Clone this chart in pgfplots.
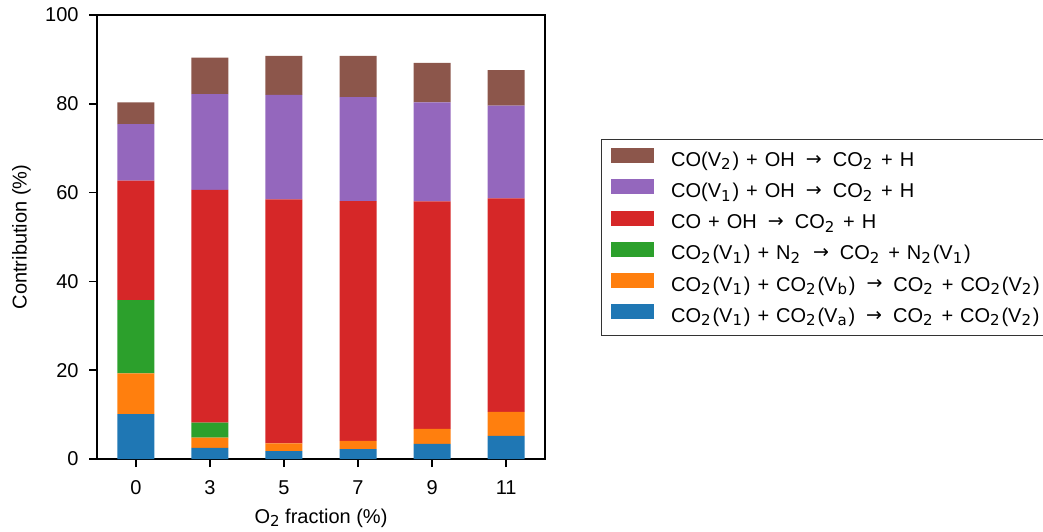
\documentclass[border=0pt]{standalone}
\usepackage{fontspec}
\setmainfont{Liberation Sans}
\newfontfamily\djv{DejaVu Sans}
\usepackage{pgfplots}
\usepackage{pgfplotstable}
\pgfplotsset{compat=1.18}
\definecolor{tabblue}{HTML}{1F77B4}
\definecolor{taborange}{HTML}{FF7F0E}
\definecolor{tabgreen}{HTML}{2CA02C}
\definecolor{tabred}{HTML}{D62728}
\definecolor{tabpurple}{HTML}{9467BD}
\definecolor{tabbrown}{HTML}{8C564B}
\newcommand{\arr}{\hspace{5.5pt}\raisebox{0.6pt}{\djv\fontsize{9.5}{10}\selectfont →}\hspace{5.5pt}}
\newcommand{\pl}{\hspace{3.5pt}+\hspace{3.5pt}}
\newcommand{\sub}[1]{\raisebox{-1.8pt}{\djv\fontsize{7.5}{8}\selectfont #1}\hspace{0.9pt}}
\newcommand{\subn}[1]{\raisebox{-1.8pt}{\djv\fontsize{7.5}{8}\selectfont #1}}

\pgfplotstableread{
x blue orange green red purple brown
0 10.1 9.2 16.5 26.9 12.7 4.9
1 2.5 2.3 3.4 52.4 21.6 8.2
2 1.8 1.7 0.0 55.0 23.5 8.8
3 2.2 1.9 0.0 54.0 23.4 9.3
4 3.4 3.4 0.0 51.2 22.3 8.9
5 5.2 5.4 0.0 48.1 20.9 8.0
}\datatable

\begin{document}
\fontsize{10}{12}\selectfont
\begin{tikzpicture}[x=1pt,y=1pt]
\useasboundingbox (0,0) rectangle (521.5,265.5);
\begin{axis}[
  at={(48.5pt,36pt)}, anchor=south west,
  scale only axis, width=224pt, height=222pt,
  ybar stacked, bar width=0.5,
  xmin=-0.525, xmax=5.525, ymin=0, ymax=100,
  xtick={0,1,2,3,4,5}, xticklabels={0,3,5,7,9,11},
  ytick={0,20,40,60,80,100},
  tick pos=left, tick align=outside, major tick length=4pt,
  tick style={black, line width=0.8pt},
  axis line style={line width=0.8pt},
  /pgf/number format/assume math mode=true,
  ticklabel style={font=\fontsize{10}{12}\selectfont},
  xticklabel style={yshift=-3.2pt},
  yticklabel style={xshift=-1.7pt},
  every axis x label/.style={at={([yshift=-32pt]axis description cs:0.5,0)}, anchor=base, font=\fontsize{10}{12}\selectfont},
  every axis y label/.style={at={([xshift=-35.2pt]axis description cs:0,0.5)}, rotate=90, anchor=base, font=\fontsize{10}{12}\selectfont},
  xlabel={O\subn{2} fraction (\%)},
  ylabel={Contribution (\%)},
  reverse legend,
  legend cell align=left,
  legend style={at={(1.125,0.7207)}, anchor=north west,
    draw=black!80, line width=0.6pt,
    font=\fontsize{10}{12}\selectfont,
    inner xsep=4.5pt, inner ysep=4.3pt, row sep=4.1pt, column sep=8.8pt,
    nodes={inner sep=0pt, text height=7.5pt, text depth=2.5pt}},
  mylegend/.style={legend image code/.code={\fill[##1, draw=none] (0pt,-1pt) rectangle (21.5pt,6.5pt);}},
]
\addplot[fill=tabblue, draw=none, mylegend] table[x=x, y=blue] {\datatable};
\addlegendentry{CO\sub{2}(V\sub{1})\pl CO\sub{2}(V\sub{a})\arr CO\sub{2}\pl CO\sub{2}(V\sub{2})}
\addplot[fill=taborange, draw=none, mylegend] table[x=x, y=orange] {\datatable};
\addlegendentry{CO\sub{2}(V\sub{1})\pl CO\sub{2}(V\sub{b})\arr CO\sub{2}\pl CO\sub{2}(V\sub{2})}
\addplot[fill=tabgreen, draw=none, mylegend] table[x=x, y=green] {\datatable};
\addlegendentry{CO\sub{2}(V\sub{1})\pl N\sub{2}\arr CO\sub{2}\pl N\sub{2}(V\sub{1})}
\addplot[fill=tabred, draw=none, mylegend] table[x=x, y=red] {\datatable};
\addlegendentry{CO\pl OH\arr CO\sub{2}\pl H}
\addplot[fill=tabpurple, draw=none, mylegend] table[x=x, y=purple] {\datatable};
\addlegendentry{CO(V\sub{1})\pl OH\arr CO\sub{2}\pl H}
\addplot[fill=tabbrown, draw=none, mylegend] table[x=x, y=brown] {\datatable};
\addlegendentry{CO(V\sub{2})\pl OH\arr CO\sub{2}\pl H}
\end{axis}
\end{tikzpicture}
\end{document}
